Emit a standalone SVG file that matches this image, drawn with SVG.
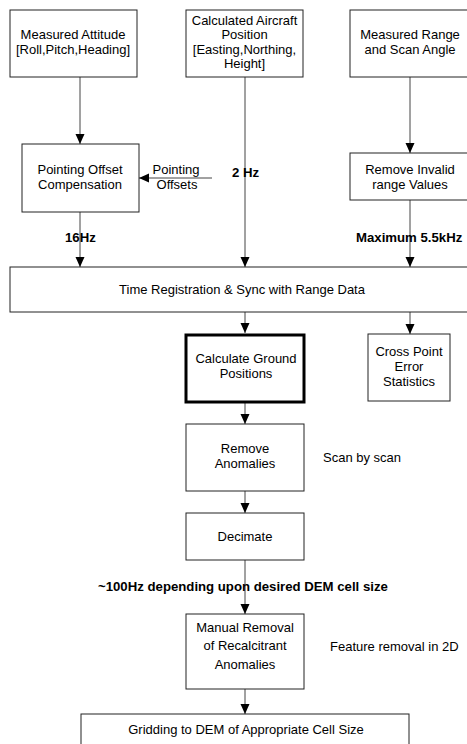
<svg xmlns="http://www.w3.org/2000/svg" width="467" height="744" viewBox="0 0 467 744">
<defs>
<marker id="ah" markerUnits="userSpaceOnUse" markerWidth="10" markerHeight="10" viewBox="0 0 10 10" refX="10" refY="5" orient="auto">
<path d="M0,0.5 L10,5 L0,9.5 Z" fill="#000"/>
</marker>
<style>
.b{fill:#fff;stroke:#222;stroke-width:1}
.t{font-family:"Liberation Sans",Arial,sans-serif;font-size:13px;fill:#000;text-anchor:middle}
.l{font-family:"Liberation Sans",Arial,sans-serif;font-size:13px;fill:#000}
.bl{font-family:"Liberation Sans",Arial,sans-serif;font-size:13.2px;font-weight:bold;fill:#000}
.c{stroke:#444;stroke-width:1;fill:none;marker-end:url(#ah)}
</style>
</defs>
<rect width="467" height="744" fill="#fff"/>
<g id="connectors">
<line class="c" x1="80" y1="77" x2="80" y2="144"/>
<line class="c" x1="410" y1="77" x2="410" y2="153"/>
<line class="c" x1="212" y1="178" x2="139" y2="178"/>
<line class="c" x1="80" y1="212" x2="80" y2="267"/>
<line class="c" x1="245" y1="77" x2="245" y2="267"/>
<line class="c" x1="410" y1="200" x2="410" y2="267"/>
<line class="c" x1="245" y1="312" x2="245" y2="333"/>
<line class="c" x1="410" y1="312" x2="410" y2="334"/>
<line class="c" x1="245" y1="403" x2="245" y2="424"/>
<line class="c" x1="245" y1="491" x2="245" y2="513"/>
<line class="c" x1="245" y1="560" x2="245" y2="614"/>
<line class="c" x1="245" y1="689" x2="245" y2="714"/>
</g>
<g id="labels">
<text class="l" x="176" y="174" text-anchor="middle">Pointing</text>
<text class="l" x="177" y="189" text-anchor="middle">Offsets</text>
<text class="bl" x="232" y="177">2 Hz</text>
<text class="bl" x="65" y="242">16Hz</text>
<text class="bl" x="356" y="242">Maximum 5.5kHz</text>
<text class="l" x="323" y="462">Scan by scan</text>
<text class="bl" x="98" y="591">~100Hz depending upon desired DEM cell size</text>
<text class="l" x="330" y="651">Feature removal in 2D</text>
</g>
<g id="attitude">
<rect class="b" x="10" y="10" width="127" height="67"/>
<text class="t" x="73" y="39">Measured Attitude</text>
<text class="t" x="73" y="54">[Roll,Pitch,Heading]</text>
</g>
<g id="position">
<rect class="b" x="186" y="10" width="117" height="67"/>
<text class="t" x="244.5" y="25">Calculated Aircraft</text>
<text class="t" x="244.5" y="39">Position</text>
<text class="t" x="244.5" y="54">[Easting,Northing,</text>
<text class="t" x="244.5" y="68">Height]</text>
</g>
<g id="range">
<rect class="b" x="350" y="10" width="125" height="67"/>
<text class="t" x="410" y="39">Measured Range</text>
<text class="t" x="410" y="54">and Scan Angle</text>
</g>
<g id="pointing">
<rect class="b" x="22" y="144" width="117" height="68"/>
<text class="t" x="80" y="174">Pointing Offset</text>
<text class="t" x="80" y="189">Compensation</text>
</g>
<g id="invalid">
<rect class="b" x="350" y="153" width="125" height="47"/>
<text class="t" x="410" y="174">Remove Invalid</text>
<text class="t" x="410" y="189">range Values</text>
</g>
<g id="timereg">
<rect class="b" x="10" y="267" width="465" height="45"/>
<text class="t" x="242" y="294">Time Registration &amp; Sync with Range Data</text>
</g>
<g id="ground">
<rect class="b" x="186" y="335" width="118" height="67" style="stroke-width:3;stroke:#000"/>
<text class="t" x="246" y="363">Calculate Ground</text>
<text class="t" x="246" y="378">Positions</text>
</g>
<g id="crosspoint">
<rect class="b" x="368" y="334" width="82" height="67"/>
<text class="t" x="409" y="356">Cross Point</text>
<text class="t" x="409" y="371">Error</text>
<text class="t" x="409" y="386">Statistics</text>
</g>
<g id="anomalies">
<rect class="b" x="186" y="424" width="118" height="67"/>
<text class="t" x="245" y="453">Remove</text>
<text class="t" x="245" y="468">Anomalies</text>
</g>
<g id="decimate">
<rect class="b" x="186" y="513" width="118" height="47"/>
<text class="t" x="245" y="541">Decimate</text>
</g>
<g id="manual">
<rect class="b" x="186" y="614" width="118" height="75"/>
<text class="t" x="245" y="632">Manual Removal</text>
<text class="t" x="245" y="650">of Recalcitrant</text>
<text class="t" x="245" y="669">Anomalies</text>
</g>
<g id="gridding">
<rect class="b" x="81" y="714" width="328" height="40"/>
<text class="t" x="246" y="734">Gridding to DEM of Appropriate Cell Size</text>
</g>
</svg>
